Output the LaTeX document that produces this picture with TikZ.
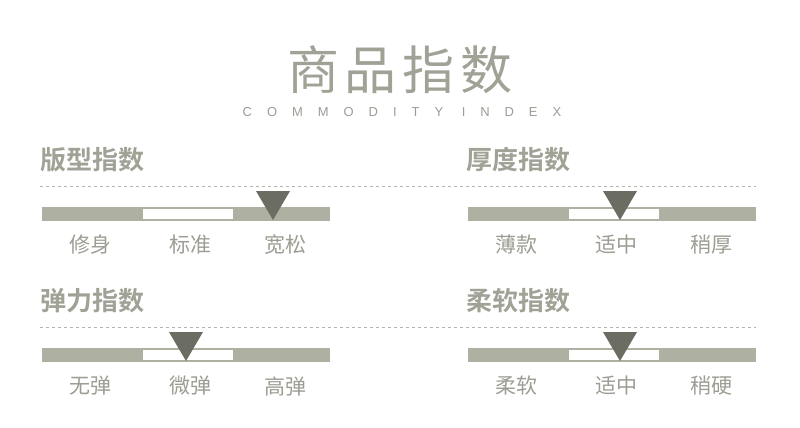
\documentclass[tikz,border=0pt]{standalone}
\usepackage{fontspec}
\newfontfamily\cjk{Noto Sans CJK SC}
\newfontfamily\cjkb{Noto Sans CJK SC Bold}
\newfontfamily\subfont[LetterSpace=115]{Liberation Sans}
\definecolor{bargray}{HTML}{AEB0A1}
\definecolor{headgray}{HTML}{A0A295}
\definecolor{txtgray}{HTML}{9C9D93}
\definecolor{markgray}{HTML}{6B6D63}
\tikzset{
  head/.style={anchor=west,text=headgray,font=\cjkb\fontsize{26}{26}\selectfont,inner sep=0pt},
  lbl/.style={text=txtgray,font=\cjk\fontsize{21}{21}\selectfont,inner sep=0pt},
  sep/.style={dashed,draw=headgray!80,line width=0.6pt},
  mark/.style={}
}
% one index block: x, y of bar top, header, marker x, three labels
\newcommand{\indexblock}[8]{%
  \node[head] (h#1) at (#2,#3-47) {#4};
  \draw[sep] (40,#3-21) -- (756,#3-21);
  \fill[bargray] (#2+2,#3) rectangle (#2+290,#3+14);
  \fill[white] (#2+103,#3+2) rectangle (#2+193,#3+12);
  \fill[markgray] (#5-17,#3-16) -- (#5+17,#3-16) -- (#5,#3+13) -- cycle;
  \node[lbl] (a#1) at (#2+50,#3+38) {#6};
  \node[lbl] (b#1) at (#2+150,#3+38) {#7};
  \node[lbl] (c#1) at (#2+245,#3+38) {#8};
}
\begin{document}
\begin{tikzpicture}[x=1pt,y=-1pt]
  \fill[white] (0,0) rectangle (800,428);
  \useasboundingbox (0,0) rectangle (800,428);
  \node[text=headgray,font=\cjk\fontsize{52}{52}\selectfont] (title) at (400,70) {商\hspace{6pt}品\hspace{6pt}指\hspace{6pt}数};
  \node[text=txtgray,font=\subfont\fontsize{13}{13}\selectfont] (sub) at (402,112) {COMMODITY INDEX};
  \indexblock{1}{40}{207}{版型指数}{273}{修身}{标准}{宽松}
  \indexblock{2}{466}{207}{厚度指数}{620}{薄款}{适中}{稍厚}
  \indexblock{3}{40}{348}{弹力指数}{186}{无弹}{微弹}{高弹}
  \indexblock{4}{466}{348}{柔软指数}{620}{柔软}{适中}{稍硬}
\end{tikzpicture}
\end{document}
